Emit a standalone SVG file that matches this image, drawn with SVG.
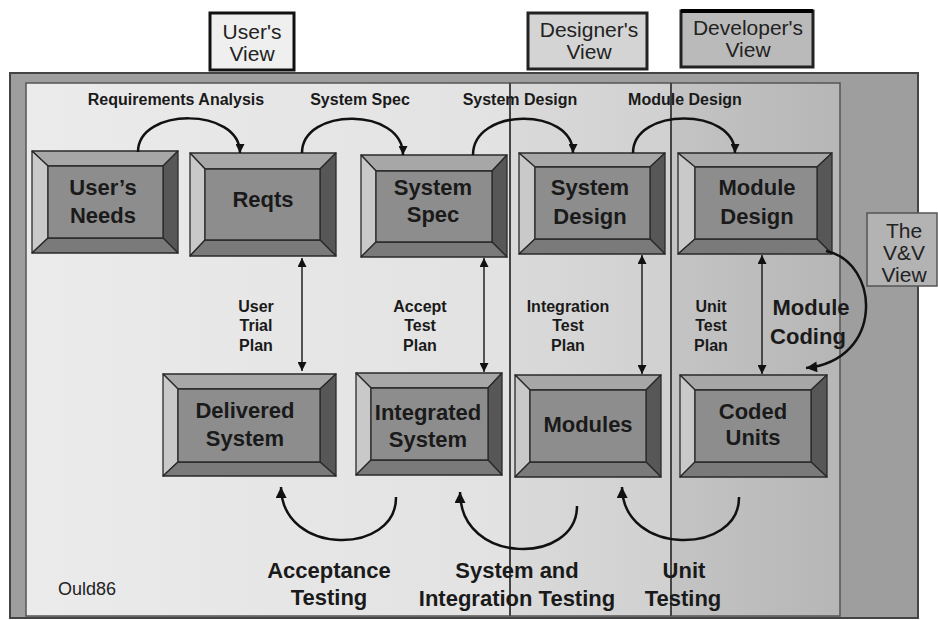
<svg xmlns="http://www.w3.org/2000/svg" width="938" height="620" viewBox="0 0 938 620">
<defs>
<style>
text{font-family:"Liberation Sans",Arial,sans-serif;fill:#1a1a1a}
.bt{font-size:22px;font-weight:bold;text-anchor:middle}
.lb{font-size:16px;font-weight:bold;text-anchor:middle}
.pl{font-size:16px;font-weight:bold;text-anchor:middle}
.big{font-size:22px;font-weight:bold;text-anchor:middle}
.vw{font-size:21px;text-anchor:middle;fill:#222}
.top{fill:#a7a7a7}.lft{fill:#c9c9c9}.rgt{fill:#575757}.bot{fill:#7a7a7a}.inn{fill:#8d8d8d}
.box polygon,.box rect{stroke:#2a2a2a;stroke-width:1.3;stroke-linejoin:round}
.arc{fill:none;stroke:#111;stroke-width:2.5}
.va{fill:none;stroke:#222;stroke-width:1.5}
</style>
<marker id="ah" viewBox="0 0 10 10" refX="10" refY="5" markerWidth="10" markerHeight="9" markerUnits="userSpaceOnUse" orient="auto-start-reverse"><path d="M0,0 L10,5 L0,10 z" fill="#111"/></marker>
<marker id="ahb" viewBox="0 0 10 10" refX="10" refY="5" markerWidth="14" markerHeight="11" markerUnits="userSpaceOnUse" orient="auto"><path d="M0,0 L10,5 L0,10 z" fill="#111"/></marker>
<linearGradient id="g1" x1="0" x2="1" y1="0" y2="0"><stop offset="0" stop-color="#ebebeb"/><stop offset="1" stop-color="#e2e2e2"/></linearGradient>
<linearGradient id="g2" x1="0" x2="1" y1="0" y2="0"><stop offset="0" stop-color="#dadada"/><stop offset="1" stop-color="#d0d0d0"/></linearGradient>
<linearGradient id="g3" x1="0" x2="1" y1="0" y2="0"><stop offset="0" stop-color="#c4c4c4"/><stop offset="1" stop-color="#b6b6b6"/></linearGradient>
</defs>

<!-- background frame -->
<g id="frame">
<rect x="10" y="73" width="908" height="545" fill="#9e9e9e" stroke="#444" stroke-width="2"/>
<rect x="26" y="83" width="484" height="533" fill="url(#g1)"/>
<rect x="510" y="83" width="161" height="533" fill="url(#g2)"/>
<rect x="671" y="83" width="169" height="533" fill="url(#g3)"/>
<rect x="26" y="83" width="814" height="533" fill="none" stroke="#555" stroke-width="1.5"/>
<line x1="510" y1="83" x2="510" y2="616" stroke="#444" stroke-width="2"/>
<line x1="671" y1="83" x2="671" y2="616" stroke="#444" stroke-width="2"/>
</g>

<!-- view labels -->
<g id="users-view">
<rect x="210" y="13" width="84" height="57" fill="#efefef" stroke="#111" stroke-width="3"/>
<text class="vw" x="252" y="39">User's</text><text class="vw" x="252" y="61">View</text>
</g>
<g id="designers-view">
<rect x="528" y="13" width="119" height="56" fill="#d4d4d4" stroke="#222" stroke-width="3"/>
<text class="vw" x="589" y="37">Designer's</text><text class="vw" x="589" y="59">View</text>
</g>
<g id="developers-view">
<rect x="681" y="11" width="132" height="56" fill="#bababa" stroke="#222" stroke-width="3"/>
<line x1="681" y1="11" x2="813" y2="11" stroke="#000" stroke-width="4"/>
<text class="vw" x="748" y="35">Developer's</text><text class="vw" x="748" y="57">View</text>
</g>
<g id="vv-view">
<rect x="867" y="213" width="70" height="73" fill="#b3b3b3" stroke="#555" stroke-width="1.5"/>
<text class="vw" x="904" y="238">The</text><text class="vw" x="904" y="260">V&amp;V</text><text class="vw" x="904" y="282">View</text>
</g>

<!-- boxes -->
<g id="users-needs" class="box">
<polygon class="top" points="32,151 178,151 163,166 48,166"/>
<polygon class="lft" points="32,151 48,166 48,238 32,253"/>
<polygon class="rgt" points="178,151 178,253 163,238 163,166"/>
<polygon class="bot" points="32,253 48,238 163,238 178,253"/>
<rect class="inn" x="48" y="166" width="115" height="72"/>
<text class="bt" x="103" y="195">User’s</text><text class="bt" x="103" y="223">Needs</text>
</g>
<g id="reqts" class="box">
<polygon class="top" points="190,153 336,153 320,169 205,169"/>
<polygon class="lft" points="190,153 205,169 205,240 190,256"/>
<polygon class="rgt" points="336,153 336,256 320,240 320,169"/>
<polygon class="bot" points="190,256 205,240 320,240 336,256"/>
<rect class="inn" x="205" y="169" width="115" height="71"/>
<text class="bt" x="263" y="207">Reqts</text>
</g>
<g id="system-spec" class="box">
<polygon class="top" points="361,155 507,155 492,171 376,171"/>
<polygon class="lft" points="361,155 376,171 376,242 361,257"/>
<polygon class="rgt" points="507,155 507,257 492,242 492,171"/>
<polygon class="bot" points="361,257 376,242 492,242 507,257"/>
<rect class="inn" x="376" y="171" width="116" height="71"/>
<text class="bt" x="433" y="195">System</text><text class="bt" x="433" y="222">Spec</text>
</g>
<g id="system-design" class="box">
<polygon class="top" points="519,153 665,153 650,167 535,167"/>
<polygon class="lft" points="519,153 535,167 535,239 519,254"/>
<polygon class="rgt" points="665,153 665,254 650,239 650,167"/>
<polygon class="bot" points="519,254 535,239 650,239 665,254"/>
<rect class="inn" x="535" y="167" width="115" height="72"/>
<text class="bt" x="590" y="195">System</text><text class="bt" x="590" y="224">Design</text>
</g>
<g id="module-design" class="box">
<polygon class="top" points="678,153 832,153 817,167 695,167"/>
<polygon class="lft" points="678,153 695,167 695,239 678,254"/>
<polygon class="rgt" points="832,153 832,254 817,239 817,167"/>
<polygon class="bot" points="678,254 695,239 817,239 832,254"/>
<rect class="inn" x="695" y="167" width="122" height="72"/>
<text class="bt" x="757" y="195">Module</text><text class="bt" x="757" y="224">Design</text>
</g>
<g id="delivered-system" class="box">
<polygon class="top" points="163,374 336,374 320,389 178,389"/>
<polygon class="lft" points="163,374 178,389 178,462 163,476"/>
<polygon class="rgt" points="336,374 336,476 320,462 320,389"/>
<polygon class="bot" points="163,476 178,462 320,462 336,476"/>
<rect class="inn" x="178" y="389" width="142" height="73"/>
<text class="bt" x="245" y="418">Delivered</text><text class="bt" x="245" y="446">System</text>
</g>
<g id="integrated-system" class="box">
<polygon class="top" points="356,373 502,373 488,388 371,388"/>
<polygon class="lft" points="356,373 371,388 371,460 356,475"/>
<polygon class="rgt" points="502,373 502,475 488,460 488,388"/>
<polygon class="bot" points="356,475 371,460 488,460 502,475"/>
<rect class="inn" x="371" y="388" width="117" height="72"/>
<text class="bt" x="428" y="420">Integrated</text><text class="bt" x="428" y="447">System</text>
</g>
<g id="modules" class="box">
<polygon class="top" points="515,375 661,375 646,390 530,390"/>
<polygon class="lft" points="515,375 530,390 530,462 515,477"/>
<polygon class="rgt" points="661,375 661,477 646,462 646,390"/>
<polygon class="bot" points="515,477 530,462 646,462 661,477"/>
<rect class="inn" x="530" y="390" width="116" height="72"/>
<text class="bt" x="588" y="432">Modules</text>
</g>
<g id="coded-units" class="box">
<polygon class="top" points="680,375 827,375 811,390 695,390"/>
<polygon class="lft" points="680,375 695,390 695,462 680,477"/>
<polygon class="rgt" points="827,375 827,477 811,462 811,390"/>
<polygon class="bot" points="680,477 695,462 811,462 827,477"/>
<rect class="inn" x="695" y="390" width="116" height="72"/>
<text class="bt" x="753" y="419">Coded</text><text class="bt" x="753" y="445">Units</text>
</g>

<!-- connectors -->
<g id="connectors">
<path class="arc" d="M138,152 C138,107 240,107 240,153" marker-end="url(#ah)"/>
<path class="arc" d="M302,153 C302,107 403,107 403,155" marker-end="url(#ah)"/>
<path class="arc" d="M473,155 C473,107 573,107 573,153" marker-end="url(#ah)"/>
<path class="arc" d="M633,153 C633,107 735,107 735,153" marker-end="url(#ah)"/>
<path class="va" d="M302,258 L302,371" marker-start="url(#ah)" marker-end="url(#ah)"/>
<path class="va" d="M484,258 L484,372" marker-start="url(#ah)" marker-end="url(#ah)"/>
<path class="va" d="M642,255 L642,374" marker-start="url(#ah)" marker-end="url(#ah)"/>
<path class="va" d="M762,255 L762,374" marker-start="url(#ah)" marker-end="url(#ah)"/>
<path class="arc" d="M826,251 C880,262 885,360 806,368" marker-end="url(#ahb)"/>
<path class="arc" d="M396,497 C397,555 282,557 281,487" marker-end="url(#ahb)"/>
<path class="arc" d="M577,506 C577,565 460,566 460,492" marker-end="url(#ahb)"/>
<path class="arc" d="M739,497 C740,555 623,557 622,487" marker-end="url(#ahb)"/>
</g>

<!-- labels -->
<g id="labels">
<text class="lb" x="176" y="105">Requirements Analysis</text>
<text class="lb" x="360" y="105">System Spec</text>
<text class="lb" x="520" y="105">System Design</text>
<text class="lb" x="685" y="105">Module Design</text>
<text class="pl" x="256" y="312">User</text><text class="pl" x="256" y="331">Trial</text><text class="pl" x="256" y="351">Plan</text>
<text class="pl" x="420" y="312">Accept</text><text class="pl" x="420" y="331">Test</text><text class="pl" x="420" y="351">Plan</text>
<text class="pl" x="568" y="312">Integration</text><text class="pl" x="568" y="331">Test</text><text class="pl" x="568" y="351">Plan</text>
<text class="pl" x="711" y="312">Unit</text><text class="pl" x="711" y="331">Test</text><text class="pl" x="711" y="351">Plan</text>
<text class="big" x="811" y="315">Module</text><text class="big" x="808" y="344">Coding</text>
<text class="big" x="329" y="578">Acceptance</text><text class="big" x="329" y="605">Testing</text>
<text class="big" x="517" y="578">System and</text><text class="big" x="517" y="606">Integration Testing</text>
<text class="big" x="684" y="578">Unit</text><text class="big" x="683" y="606">Testing</text>
<text x="58" y="595" style="font-size:18px;fill:#222">Ould86</text>
</g>
</svg>
